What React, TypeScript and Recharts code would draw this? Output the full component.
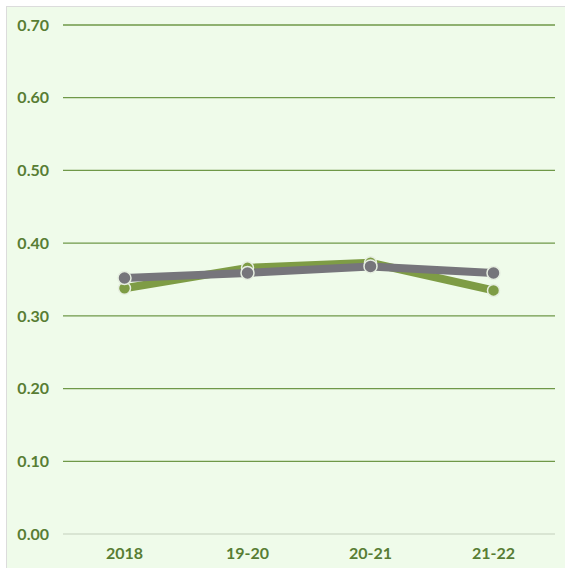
import React from "react";
import { LineChart, Line, XAxis, YAxis, CartesianGrid, ReferenceLine } from "recharts";

const categories = ["2018", "19-20", "20-21", "21-22"];
const greenSeries = [0.338, 0.366, 0.373, 0.335];
const graySeries = [0.352, 0.359, 0.368, 0.359];
const yTicks = [0, 0.1, 0.2, 0.3, 0.4, 0.5, 0.6, 0.7];

const data = categories.map((c, i) => ({ cat: c, green: greenSeries[i], gray: graySeries[i] }));

const textColor = "#587d34";
const tickStyle = { fill: textColor, fontFamily: "Lato", fontWeight: 700, fontSize: 16 };

export default function App() {
  return (
    <div style={{ position: "absolute", left: 0, top: 0, width: 565, height: 568, background: "#ffffff" }}>
      <div
        style={{
          position: "absolute",
          left: 6,
          top: 6,
          width: 565,
          height: 568,
          background: "#effbea",
          border: "1px solid #dcdcdc",
          boxSizing: "border-box",
        }}
      />
      <div style={{ position: "absolute", left: 0, top: 0 }}>
        <LineChart width={565} height={568} data={data} margin={{ top: 25, right: 10, bottom: 4, left: 8 }}>
          <CartesianGrid vertical={false} horizontalValues={yTicks} stroke="#6f9848" strokeWidth={1.3} />
          <ReferenceLine y={0} stroke="#d9e5d3" strokeWidth={2} />
          <XAxis
            dataKey="cat"
            height={30}
            axisLine={false}
            tickLine={false}
            tickSize={0}
            tickMargin={14}
            tick={tickStyle}
            interval={0}
            padding={{ left: 61.5, right: 61.5 }}
          />
          <YAxis
            width={55}
            domain={[0, 0.7]}
            ticks={yTicks}
            axisLine={false}
            tickLine={false}
            tickSize={0}
            tickMargin={14}
            tick={tickStyle}
            tickFormatter={(v: number) => v.toFixed(2)}
            interval={0}
          />
          <Line
            dataKey="green"
            stroke="#7e9c45"
            strokeWidth={8}
            isAnimationActive={false}
            dot={{ r: 6, fill: "#7e9c45", stroke: "#e6eee0", strokeWidth: 1.5 }}
          />
          <Line
            dataKey="gray"
            stroke="#76757b"
            strokeWidth={8}
            isAnimationActive={false}
            dot={{ r: 6.5, fill: "#76757b", stroke: "#e6eee0", strokeWidth: 1.5 }}
          />
        </LineChart>
      </div>
    </div>
  );
}
